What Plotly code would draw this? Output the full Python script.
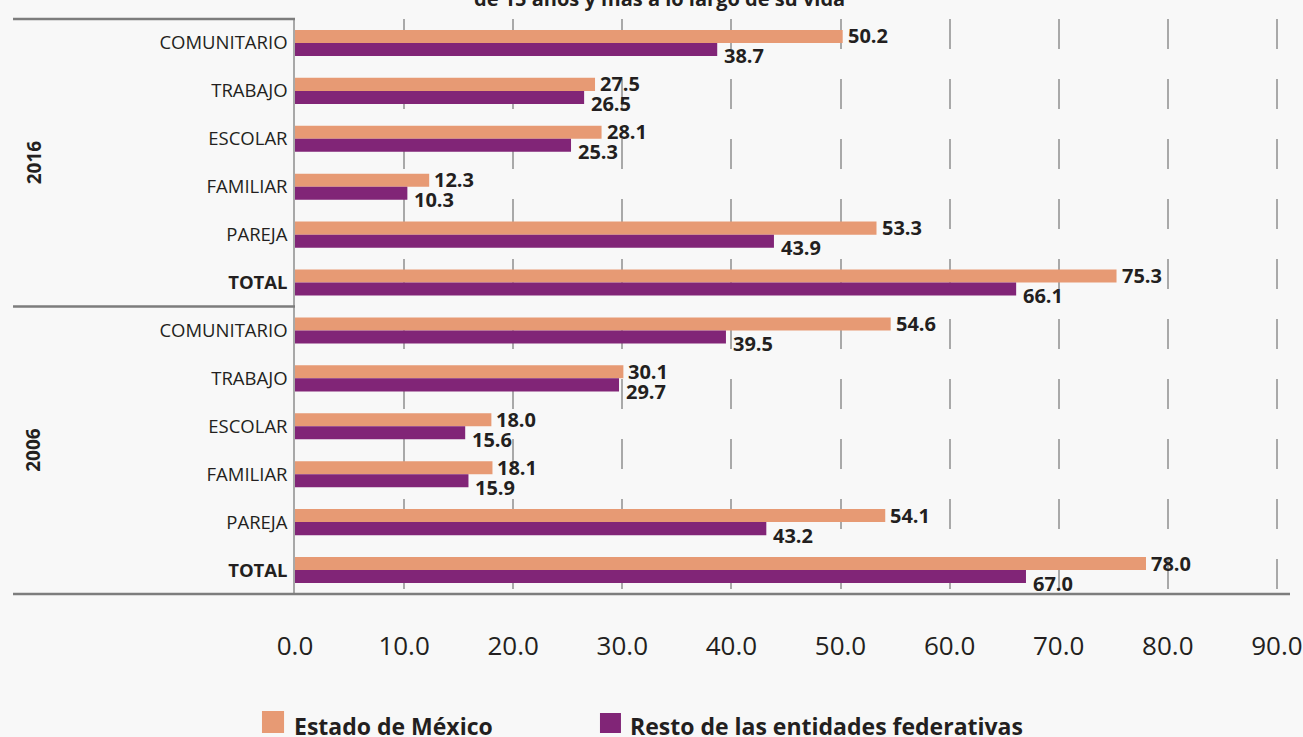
import plotly.graph_objects as go

# ---------------- data ----------------
title_text = "de 15 años y más a lo largo de su vida"
groups = ["2016", "2006"]
categories = ["COMUNITARIO", "TRABAJO", "ESCOLAR", "FAMILIAR", "PAREJA", "TOTAL"]
series_names = ["Estado de México", "Resto de las entidades federativas"]
edomex_2016 = [50.2, 27.5, 28.1, 12.3, 53.3, 75.3]
resto_2016 = [38.7, 26.5, 25.3, 10.3, 43.9, 66.1]
edomex_2006 = [54.6, 30.1, 18.0, 18.1, 54.1, 78.0]
resto_2006 = [39.5, 29.7, 15.6, 15.9, 43.2, 67.0]
x_ticks = [0, 10, 20, 30, 40, 50, 60, 70, 80, 90]

# ---------------- styles ----------------
ORANGE = "#E79A74"
PURPLE = "#812577"
TXT = "#231f20"
BG = "#f8f8f8"
FONT = "Open Sans"

edomex = edomex_2016 + edomex_2006
resto = resto_2016 + resto_2006
ypos = list(range(len(edomex)))
ticktext = [("<b>%s</b>" % c if c == "TOTAL" else c) for c in categories] * len(groups)

fig = go.Figure()
fig.add_trace(go.Bar(y=ypos, x=edomex, orientation="h", name=series_names[0],
                     marker=dict(color=ORANGE, line=dict(width=0)), showlegend=False))
fig.add_trace(go.Bar(y=ypos, x=resto, orientation="h", name=series_names[1],
                     marker=dict(color=PURPLE, line=dict(width=0)), showlegend=False))

annotations = []
for yi, v in zip(ypos, edomex):
    annotations.append(dict(x=v, y=yi, xref="x", yref="y", text="<b>%.1f</b>" % v,
                            showarrow=False, xanchor="left", yanchor="middle",
                            xshift=3, yshift=7, font=dict(family=FONT, size=20, color=TXT)))
for yi, v in zip(ypos, resto):
    annotations.append(dict(x=v, y=yi, xref="x", yref="y", text="<b>%.1f</b>" % v,
                            showarrow=False, xanchor="left", yanchor="middle",
                            xshift=5, yshift=-13, font=dict(family=FONT, size=20, color=TXT)))

# group labels (rotated)
n = len(categories)
for gi, g in enumerate(groups):
    annotations.append(dict(x=-0.2628, y=gi * n + (n - 1) / 2, xref="paper", yref="y",
                            text="<b>%s</b>" % g, showarrow=False, textangle=-90,
                            xanchor="center", yanchor="middle",
                            font=dict(family=FONT, size=19, color=TXT)))

# title (cut at top)
annotations.append(dict(x=0.366, y=1.035, xref="paper", yref="paper",
                        text="<b>%s</b>" % title_text, showarrow=False,
                        xanchor="center", yanchor="middle",
                        font=dict(family=FONT, size=20, color=TXT)))

# manual legend
leg = [(-0.0332, -0.011, -0.2035, -0.2417, ORANGE, -0.003, series_names[0]),
       (0.3065, 0.3276, -0.2070, -0.2417, PURPLE, 0.3347, series_names[1])]
shapes = []
for x0, x1, y0, y1, col, tx, name in leg:
    shapes.append(dict(type="rect", xref="paper", yref="paper", x0=x0, x1=x1, y0=y0, y1=y1,
                       fillcolor=col, line=dict(width=0)))
    annotations.append(dict(x=tx, y=-0.229, xref="paper", yref="paper",
                            text="<b>%s</b>" % name, showarrow=False,
                            xanchor="left", yanchor="middle",
                            font=dict(family=FONT, size=23, color=TXT)))

LINE = "#7d7d7d"
shapes += [
    dict(type="line", xref="paper", yref="paper", x0=-0.2834, x1=0.0, y0=1, y1=1,
         line=dict(color=LINE, width=2.5)),
    dict(type="line", xref="paper", yref="y", x0=-0.2834, x1=0.0, y0=n - 0.5, y1=n - 0.5,
         line=dict(color=LINE, width=2.5)),
    dict(type="line", xref="paper", yref="paper", x0=-0.2834, x1=1.0, y0=0, y1=0,
         line=dict(color=LINE, width=2.5)),
]

fig.update_layout(
    width=1303, height=737,
    margin=dict(l=295, r=13, t=19, b=143, autoexpand=False),
    paper_bgcolor=BG, plot_bgcolor=BG,
    barmode="group", bargap=0.457, bargroupgap=0,
    font=dict(family=FONT, color=TXT),
    annotations=annotations, shapes=shapes,
    xaxis=dict(range=[0, 91.2], tickvals=x_ticks, tickformat=".1f", automargin=False,
               showgrid=True, gridcolor="#a9a9a9", gridwidth=1.5, griddash="30px,30px",
               zeroline=False, showline=False, ticks="",
               tickfont=dict(family=FONT, size=26, color=TXT), ticklabelstandoff=34),
    yaxis=dict(range=[len(ypos) - 0.5, -0.5], tickvals=ypos, ticktext=ticktext,
               automargin=False,
               showgrid=False, zeroline=False, showline=True, linecolor="#a8a8a8",
               linewidth=1.5, ticks="", ticklabelstandoff=2,
               tickfont=dict(family=FONT, size=18.5, color=TXT)),
)

fig.write_html("out.html", config={"displayModeBar": False},
               post_script="document.body.style.margin='0px';document.body.style.background='%s';" % BG)
